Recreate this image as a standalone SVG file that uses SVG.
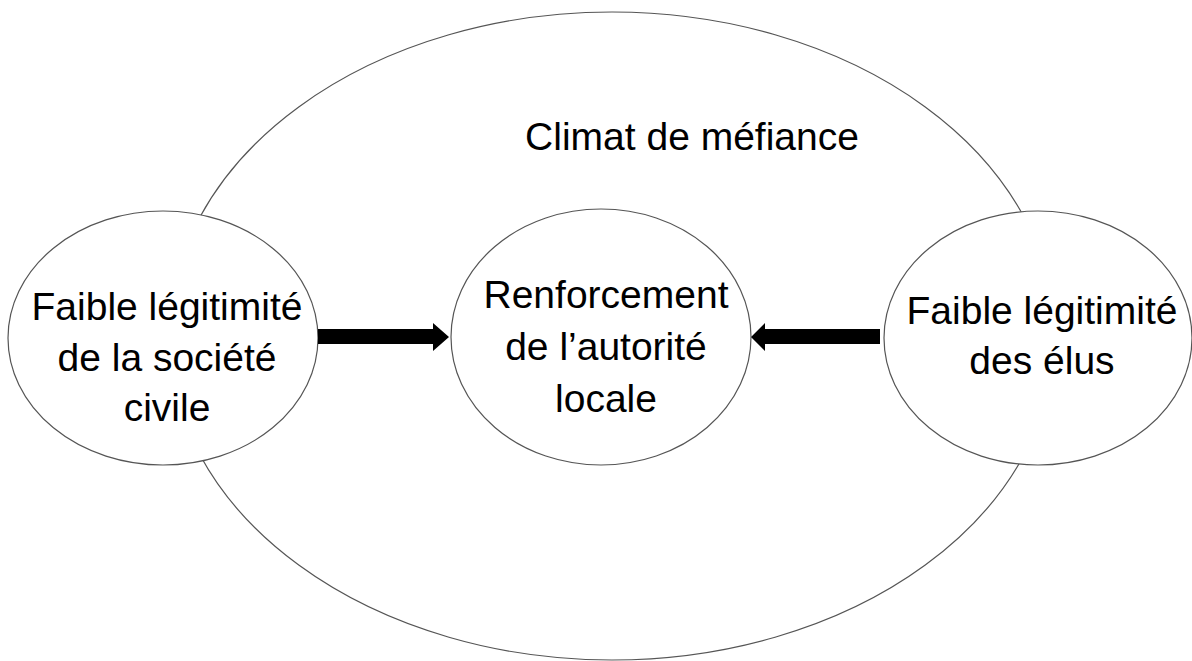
<svg xmlns="http://www.w3.org/2000/svg" width="1192" height="661" viewBox="0 0 1192 661">
<style>
.node{fill:#fff;stroke:#555;stroke-width:1.2}
.lbl{font-family:"Liberation Sans",Arial,sans-serif;font-size:39px;fill:#000;text-anchor:middle}
.arrow{fill:#000;stroke:none}
</style>
<rect width="1192" height="661" fill="#fff"/>
<g id="climat">
<ellipse class="node" cx="612" cy="336" rx="443" ry="324"/>
<text class="lbl" x="692" y="150">Climat de méfiance</text>
</g>
<g id="societe-civile">
<ellipse class="node" cx="163" cy="338" rx="155" ry="127"/>
<text class="lbl"><tspan x="167" y="320">Faible légitimité</tspan><tspan x="167" y="371">de la société</tspan><tspan x="167" y="421">civile</tspan></text>
</g>
<g id="autorite-locale">
<ellipse class="node" cx="601" cy="337" rx="150" ry="128"/>
<text class="lbl"><tspan x="606" y="308">Renforcement</tspan><tspan x="606" y="360">de l’autorité</tspan><tspan x="606" y="412">locale</tspan></text>
</g>
<g id="elus">
<ellipse class="node" cx="1038" cy="338" rx="154" ry="127"/>
<text class="lbl"><tspan x="1042" y="324">Faible légitimité</tspan><tspan x="1042" y="374">des élus</tspan></text>
</g>
<g id="connectors">
<polygon class="arrow" points="318,329 433,329 433,323 449,337 433,351 433,344 318,344"/>
<polygon class="arrow" points="880,329 765,329 765,323 751,337 765,351 765,344 880,344"/>
</g>
</svg>
